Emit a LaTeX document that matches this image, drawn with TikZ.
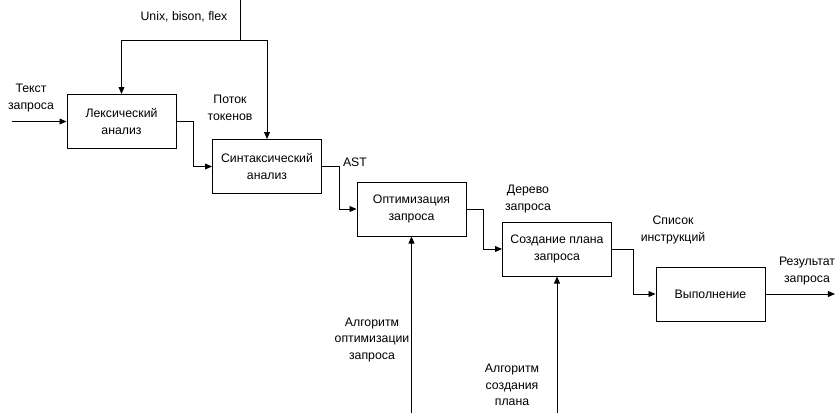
\documentclass[tikz,border=0pt]{standalone}
\usepackage{fontspec}
\setmainfont{Liberation Sans}
\usetikzlibrary{arrows.meta}

\begin{document}
\begin{tikzpicture}[
    x=0.03cm, y=-0.03cm,
    block/.style={draw, align=center, inner sep=2pt, line width=0.8pt,
                  minimum width=3.27cm, minimum height=1.62cm,
                  font=\fontsize{10.5}{14}\selectfont},
    arr/.style={-{Triangle[length=6pt,width=5pt]}, line width=0.8pt},
    ln/.style={line width=0.8pt},
    lbl/.style={align=center, inner sep=0pt, font=\fontsize{10.5}{14}\selectfont}
  ]
    \useasboundingbox (0,0) rectangle (839,413);

    \node[block] (lex)   at (121.5,121.5) {Лексический\\анализ};
    \node[block] (synt)  at (267,166.5)   {Синтаксический\\анализ};
    \node[block] (opt)   at (411.5,209)   {Оптимизация\\запроса};
    \node[block] (plan)  at (557,249)     {Создание плана\\запроса};
    \node[block] (exec)  at (710.5,294)   {Выполнение};

    \coordinate (in)   at (12,121.5);
    \coordinate (out)  at (835,294);
    \coordinate (ctop) at (240,0);
    \coordinate (cj)   at (240,40);
    \coordinate (mopt) at (411.5,413);
    \coordinate (mpl)  at (557,413);

    \node[lbl] (tctrl) at (184,17)  {Unix, bison, flex};
    \node[lbl] (tin)   at (31,98)   {Текст\\запроса};
    \node[lbl] (ttok)  at (230,108) {Поток\\токенов};
    \node[lbl] (tast)  at (355,162) {AST};
    \node[lbl] (ttree) at (528,199) {Дерево\\запроса};
    \node[lbl] (tlist) at (673,230) {Список\\инструкций};
    \node[lbl] (tres)  at (807,271) {Результат\\запроса};
    \node[lbl] (talg1) at (372,340) {Алгоритм\\оптимизации\\запроса};
    \node[lbl] (talg2) at (512,385) {Алгоритм\\создания\\плана};

    \draw[arr] (in) -- (lex);
    \draw[arr] (lex.east)  -- ++(17,0) |- (synt.west);
    \draw[arr] (synt.east) -- ++(17,0) |- (opt.west);
    \draw[arr] (opt.east)  -- ++(17,0) |- (plan.west);
    \draw[arr] (plan.east) -- ++(21,0) |- (exec.west);
    \draw[arr] (exec) -- (out);

    \draw[ln]  (ctop) -- (cj);
    \draw[arr] (cj) -| (lex.north);
    \draw[arr] (cj) -| (synt.north);

    \draw[arr] (mopt) -- (opt.south);
    \draw[arr] (mpl)  -- (plan.south);
  \end{tikzpicture}
\end{document}
